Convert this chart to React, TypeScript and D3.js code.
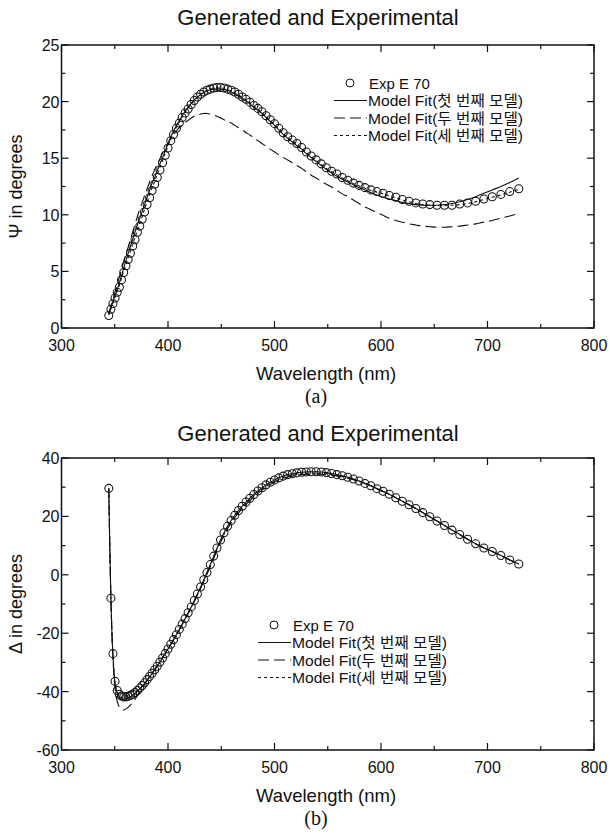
import React from 'react';
import * as d3 from 'd3';

// ---------- data ----------
const wavelength = [
  344.4, 346.4, 348.3, 350.3, 352.3, 354.3, 356.3, 358.4, 360.5, 362.6,
  364.7, 366.9, 369.0, 371.3, 373.5, 375.8, 378.0, 380.4, 382.7, 385.1,
  387.5, 389.9, 392.4, 394.9, 397.4, 400.0, 402.6, 405.2, 407.9, 410.6,
  413.3, 416.1, 418.9, 421.8, 424.7, 427.6, 430.6, 433.6, 436.6, 439.7,
  442.9, 446.0, 449.3, 452.6, 455.9, 459.3, 462.7, 466.2, 469.7, 473.3,
  476.9, 480.6, 484.4, 488.2, 492.1, 496.0, 500.0, 504.1, 508.2, 512.4,
  516.7, 521.0, 525.4, 529.9, 534.5, 539.1, 543.9, 548.7, 553.6, 558.6,
  563.6, 568.8, 574.1, 579.4, 584.9, 590.5, 596.2, 601.9, 607.8, 613.9,
  620.0, 626.3, 632.7, 639.2, 645.8, 652.6, 659.6, 666.7, 673.9, 681.3,
  688.9, 696.6, 704.5, 712.6, 720.9, 729.4,
];

const psiExp = [
  1.1, 1.65, 2.15, 2.65, 3.15, 3.6, 4.25, 4.9, 5.5, 6.05,
  6.6, 7.25, 7.8, 8.45, 9.0, 9.6, 10.25, 10.9, 11.5, 12.15,
  12.7, 13.3, 13.95, 14.6, 15.25, 15.9, 16.55, 17.1, 17.65, 18.1,
  18.6, 19.0, 19.35, 19.75, 20.1, 20.4, 20.65, 20.85, 21.0, 21.1,
  21.2, 21.25, 21.25, 21.2, 21.1, 21.0, 20.85, 20.65, 20.4, 20.2,
  19.95, 19.65, 19.4, 19.1, 18.75, 18.4, 18.05, 17.65, 17.25, 16.9,
  16.6, 16.3, 15.95, 15.55, 15.2, 14.85, 14.5, 14.15, 13.85, 13.6,
  13.3, 13.05, 12.8, 12.6, 12.4, 12.2, 12.05, 11.9, 11.7, 11.55,
  11.35, 11.2, 11.05, 10.95, 10.9, 10.85, 10.85, 10.85, 10.95, 11.05,
  11.2, 11.4, 11.6, 11.8, 12.05, 12.3,
];
const psiModel1 = [
  1.2, 1.75, 2.3, 2.85, 3.4, 4.0, 4.6, 5.3, 5.95, 6.6,
  7.2, 7.85, 8.45, 9.1, 9.7, 10.3, 10.9, 11.55, 12.15, 12.8,
  13.3, 13.9, 14.5, 15.05, 15.65, 16.3, 16.9, 17.4, 17.9, 18.3,
  18.75, 19.15, 19.5, 19.85, 20.15, 20.4, 20.6, 20.8, 20.95, 21.05,
  21.1, 21.1, 21.1, 21.05, 21.0, 20.85, 20.7, 20.5, 20.25, 20.05,
  19.8, 19.5, 19.25, 18.95, 18.6, 18.25, 17.9, 17.5, 17.1, 16.75,
  16.45, 16.1, 15.8, 15.4, 15.05, 14.7, 14.35, 14.0, 13.7, 13.4,
  13.15, 12.9, 12.65, 12.4, 12.2, 11.95, 11.75, 11.55, 11.4, 11.25,
  11.1, 11.0, 10.9, 10.85, 10.85, 10.85, 10.9, 11.0, 11.15, 11.35,
  11.6, 11.9, 12.2, 12.5, 12.85, 13.25,
];
const psiModel2 = [
  1.3, 1.95, 2.55, 3.2, 3.85, 4.5, 5.15, 5.85, 6.5, 7.15,
  7.8, 8.5, 9.15, 9.85, 10.5, 11.1, 11.7, 12.3, 12.9, 13.45,
  14.0, 14.45, 14.95, 15.45, 15.9, 16.3, 16.7, 17.05, 17.4, 17.7,
  17.95, 18.15, 18.35, 18.55, 18.7, 18.8, 18.9, 18.95, 18.95, 18.9,
  18.8, 18.7, 18.55, 18.4, 18.25, 18.1, 17.9, 17.7, 17.5, 17.25,
  17.05, 16.8, 16.55, 16.3, 16.05, 15.8, 15.55, 15.3, 15.05, 14.85,
  14.6, 14.35, 14.1, 13.8, 13.5, 13.25, 12.95, 12.7, 12.45, 12.15,
  11.85, 11.6, 11.3, 11.0, 10.7, 10.45, 10.2, 9.95, 9.7, 9.5,
  9.35, 9.2, 9.1, 9.0, 8.95, 8.9, 8.9, 8.95, 9.0, 9.1,
  9.2, 9.35, 9.5, 9.7, 9.9, 10.1,
];
const psiModel3 = [
  1.15, 1.7, 2.2, 2.75, 3.25, 3.75, 4.4, 5.05, 5.65, 6.25,
  6.8, 7.45, 8.0, 8.65, 9.25, 9.85, 10.5, 11.15, 11.75, 12.4,
  12.95, 13.55, 14.2, 14.8, 15.45, 16.05, 16.7, 17.25, 17.75, 18.2,
  18.65, 19.05, 19.4, 19.75, 20.1, 20.4, 20.65, 20.85, 21.0, 21.1,
  21.15, 21.2, 21.2, 21.15, 21.05, 20.95, 20.8, 20.6, 20.35, 20.15,
  19.9, 19.6, 19.35, 19.05, 18.7, 18.35, 18.0, 17.6, 17.2, 16.85,
  16.55, 16.25, 15.9, 15.5, 15.15, 14.8, 14.45, 14.1, 13.8, 13.55,
  13.25, 13.0, 12.75, 12.55, 12.35, 12.15, 12.0, 11.85, 11.65, 11.5,
  11.3, 11.15, 11.0, 10.9, 10.85, 10.8, 10.8, 10.85, 10.9, 11.0,
  11.15, 11.35, 11.55, 11.75, 12.0, 12.25,
];

const deltaExp = [
  29.6, -8.0, -27.0, -36.5, -39.6, -40.9, -41.5, -41.8, -41.8, -41.6,
  -41.3, -40.9, -40.3, -39.6, -38.8, -37.9, -37.0, -35.9, -34.8, -33.7,
  -32.5, -31.3, -29.9, -28.5, -27.0, -25.4, -23.8, -22.2, -20.5, -18.7,
  -16.9, -15.0, -13.0, -11.0, -8.8, -6.6, -4.2, -1.7, 0.8, 3.5,
  6.4, 9.2, 11.9, 14.4, 16.6, 18.6, 20.4, 22.0, 23.5, 24.9,
  26.2, 27.5, 28.7, 29.8, 30.8, 31.7, 32.5, 33.2, 33.8, 34.3,
  34.6, 34.9, 35.1, 35.2, 35.3, 35.3, 35.2, 35.0, 34.7, 34.3,
  33.9, 33.4, 32.8, 32.1, 31.3, 30.5, 29.5, 28.6, 27.6, 26.4,
  25.2, 24.0, 22.7, 21.3, 19.9, 18.4, 16.9, 15.3, 13.8, 12.2,
  10.6, 9.2, 8.0, 6.6, 5.1, 3.7,
];
const deltaModel1 = [
  29.6, -8.3, -27.6, -37.3, -40.6, -41.9, -42.5, -42.6, -42.5, -42.2,
  -41.8, -41.3, -40.7, -39.9, -39.1, -38.2, -37.2, -36.1, -35.0, -33.8,
  -32.6, -31.3, -29.9, -28.5, -27.0, -25.4, -23.8, -22.2, -20.5, -18.7,
  -16.9, -15.0, -13.0, -11.0, -8.8, -6.6, -4.2, -1.7, 0.8, 3.5,
  6.4, 9.2, 11.9, 14.4, 16.6, 18.6, 20.4, 22.0, 23.5, 24.9,
  26.2, 27.5, 28.7, 29.8, 30.8, 31.7, 32.5, 33.2, 33.8, 34.3,
  34.6, 34.9, 35.1, 35.2, 35.3, 35.3, 35.2, 35.0, 34.7, 34.3,
  33.9, 33.4, 32.8, 32.1, 31.3, 30.5, 29.5, 28.6, 27.6, 26.4,
  25.2, 24.0, 22.7, 21.3, 19.9, 18.4, 16.9, 15.3, 13.8, 12.2,
  10.6, 9.2, 8.0, 6.6, 5.1, 3.7,
];
const deltaModel2 = [
  29.6, -8.5, -28.5, -39.0, -43.3, -45.3, -46.1, -46.3, -46.0, -45.4,
  -44.6, -43.6, -42.6, -41.4, -40.2, -38.9, -37.6, -36.3, -35.0, -33.7,
  -32.4, -31.1, -29.7, -28.3, -26.9, -25.4, -23.9, -22.3, -20.6, -18.9,
  -17.1, -15.2, -13.3, -11.3, -9.2, -7.0, -4.7, -2.3, 0.2, 2.8,
  5.6, 8.4, 11.1, 13.6, 15.8, 17.8, 19.6, 21.2, 22.7, 24.1,
  25.4, 26.7, 27.9, 29.0, 30.0, 30.9, 31.7, 32.4, 33.0, 33.5,
  33.8, 34.1, 34.3, 34.4, 34.5, 34.5, 34.4, 34.3, 34.1, 33.8,
  33.5, 33.1, 32.6, 32.0, 31.3, 30.5, 29.5, 28.5, 27.6, 26.4,
  25.2, 24.0, 22.7, 21.3, 19.9, 18.4, 16.9, 15.3, 13.8, 12.2,
  10.6, 9.2, 8.0, 6.6, 5.1, 3.7,
];
const deltaModel3 = [
  29.6, -8.1, -27.3, -36.9, -40.1, -41.4, -42.0, -42.2, -42.2, -42.0,
  -41.7, -41.2, -40.6, -39.8, -39.0, -38.1, -37.1, -36.0, -34.9, -33.7,
  -32.5, -31.3, -29.9, -28.5, -27.0, -25.4, -23.8, -22.2, -20.5, -18.7,
  -16.9, -15.0, -13.1, -11.1, -9.0, -6.8, -4.5, -2.0, 0.5, 3.1,
  5.9, 8.7, 11.4, 13.9, 16.1, 18.1, 19.9, 21.5, 23.0, 24.4,
  25.7, 27.0, 28.2, 29.3, 30.3, 31.2, 32.0, 32.7, 33.3, 33.8,
  34.1, 34.4, 34.6, 34.7, 34.8, 34.8, 34.7, 34.6, 34.4, 34.1,
  33.7, 33.3, 32.7, 32.1, 31.3, 30.5, 29.5, 28.5, 27.6, 26.4,
  25.2, 24.0, 22.7, 21.3, 19.9, 18.4, 16.9, 15.3, 13.8, 12.2,
  10.6, 9.2, 8.0, 6.6, 5.1, 3.7,
];

const xTicks = [300, 400, 500, 600, 700, 800];
const xMinorTicks = [350, 450, 550, 650, 750];
const psiTicks = [0, 5, 10, 15, 20, 25];
const psiMinorTicks = [2.5, 7.5, 12.5, 17.5, 22.5];
const deltaTicks = [-60, -40, -20, 0, 20, 40];
const deltaMinorTicks = [-50, -30, -10, 10, 30];
const chartTitle = 'Generated and Experimental';
const xTitle = 'Wavelength (nm)';
const legendLabels = ['Exp E 70', 'Model Fit(첫 번째 모델)', 'Model Fit(두 번째 모델)', 'Model Fit(세 번째 모델)'];

// ---------- drawing ----------
const FONT = "'Liberation Sans', Arial, 'Noto Sans CJK KR', sans-serif";
const LEFT = 61.5;
const RIGHT = 594;
const DASHES = [null, '11,5', '3,3'];

type PanelProps = {
  top: number; bottom: number; yDomain: [number, number];
  yTicks: number[]; yMinor: number[];
  exp: number[]; models: number[][];
  yTitle: string; tag: string;
  titleY: number; legendX: number; legendY: number;
};

function Panel(p: PanelProps) {
  const x = d3.scaleLinear().domain([300, 800]).range([LEFT, RIGHT]);
  const y = d3.scaleLinear().domain(p.yDomain).range([p.bottom, p.top]);
  const line = d3.line<number>()
    .x((_, i) => x(wavelength[i]))
    .y((d) => y(d))
    .curve(d3.curveCatmullRom.alpha(0.5));
  const midY = (p.top + p.bottom) / 2;
  const lx0 = p.legendX - 16;
  return (
    <g>
      <text x={318} y={p.titleY} textAnchor="middle" fontFamily={FONT} fontSize={22} fill="#111">{chartTitle}</text>
      {p.models.map((m, k) => (
        <path key={k} d={line(m) || ''} fill="none" stroke="#111" strokeWidth={1.1}
          strokeDasharray={DASHES[k] || undefined} />
      ))}
      {p.exp.map((v, i) => (
        <circle key={i} cx={x(wavelength[i])} cy={y(v)} r={4} fill="none" stroke="#111" strokeWidth={1.05} />
      ))}
      <rect x={LEFT} y={p.top} width={RIGHT - LEFT} height={p.bottom - p.top} fill="none" stroke="#111" strokeWidth={1.5} />
      {xTicks.map((t) => (
        <g key={'x' + t}>
          <line x1={x(t)} x2={x(t)} y1={p.bottom} y2={p.bottom - 7} stroke="#111" strokeWidth={1.2} />
          <line x1={x(t)} x2={x(t)} y1={p.top} y2={p.top + 7} stroke="#111" strokeWidth={1.2} />
          <text x={x(t)} y={p.bottom + 23} textAnchor="middle" fontFamily={FONT} fontSize={16} fill="#111">{t}</text>
        </g>
      ))}
      {xMinorTicks.map((t) => (
        <g key={'xm' + t}>
          <line x1={x(t)} x2={x(t)} y1={p.bottom} y2={p.bottom - 4} stroke="#111" strokeWidth={1.2} />
          <line x1={x(t)} x2={x(t)} y1={p.top} y2={p.top + 4} stroke="#111" strokeWidth={1.2} />
        </g>
      ))}
      {p.yTicks.map((t) => (
        <g key={'y' + t}>
          <line x1={LEFT} x2={LEFT + 7} y1={y(t)} y2={y(t)} stroke="#111" strokeWidth={1.2} />
          <line x1={RIGHT} x2={RIGHT - 7} y1={y(t)} y2={y(t)} stroke="#111" strokeWidth={1.2} />
          <text x={LEFT - 2} y={y(t) + 6} textAnchor="end" fontFamily={FONT} fontSize={16} fill="#111">{t}</text>
        </g>
      ))}
      {p.yMinor.map((t) => (
        <g key={'ym' + t}>
          <line x1={LEFT} x2={LEFT + 4} y1={y(t)} y2={y(t)} stroke="#111" strokeWidth={1.2} />
          <line x1={RIGHT} x2={RIGHT - 4} y1={y(t)} y2={y(t)} stroke="#111" strokeWidth={1.2} />
        </g>
      ))}
      <text x={326} y={p.bottom + 52} textAnchor="middle" fontFamily={FONT} fontSize={18.5} fill="#111">{xTitle}</text>
      <text transform={`translate(22,${midY}) rotate(-90)`} textAnchor="middle" fontFamily={FONT} fontSize={18} fill="#111">{p.yTitle}</text>
      <text x={316} y={p.bottom + 75} textAnchor="middle" fontFamily="'Liberation Serif', 'Times New Roman', serif" fontSize={20} fill="#111">{p.tag}</text>
      <circle cx={p.legendX} cy={p.legendY} r={4} fill="none" stroke="#111" strokeWidth={1} />
      <text x={p.legendX + 19} y={p.legendY + 5.5} fontFamily={FONT} fontSize={15} fill="#111">{legendLabels[0]}</text>
      {[1, 2, 3].map((k) => {
        const ly = p.legendY + k * 17.5;
        return (
          <g key={'lg' + k}>
            <line x1={lx0} x2={lx0 + 33} y1={ly} y2={ly} stroke="#111" strokeWidth={1.1}
              strokeDasharray={DASHES[k - 1] || undefined} />
            <text x={lx0 + 34} y={ly + 5.5} fontFamily={FONT} fontSize={15} fill="#111"
              textLength={155} lengthAdjust="spacingAndGlyphs">{legendLabels[k]}</text>
          </g>
        );
      })}
    </g>
  );
}

export default function App() {
  return (
    <svg width={610} height={836} viewBox="0 0 610 836"
      style={{ position: 'absolute', left: 0, top: 0, background: '#fff' }}>
      <rect width={610} height={836} fill="#fff" />
      <Panel top={45} bottom={328} yDomain={[0, 25]} yTicks={psiTicks} yMinor={psiMinorTicks}
        exp={psiExp} models={[psiModel1, psiModel2, psiModel3]}
        yTitle="Ψ in degrees" tag="(a)" titleY={25} legendX={350} legendY={83} />
      <Panel top={458} bottom={750} yDomain={[-60, 40]} yTicks={deltaTicks} yMinor={deltaMinorTicks}
        exp={deltaExp} models={[deltaModel1, deltaModel2, deltaModel3]}
        yTitle="Δ in degrees" tag="(b)" titleY={441} legendX={274} legendY={625} />
    </svg>
  );
}
